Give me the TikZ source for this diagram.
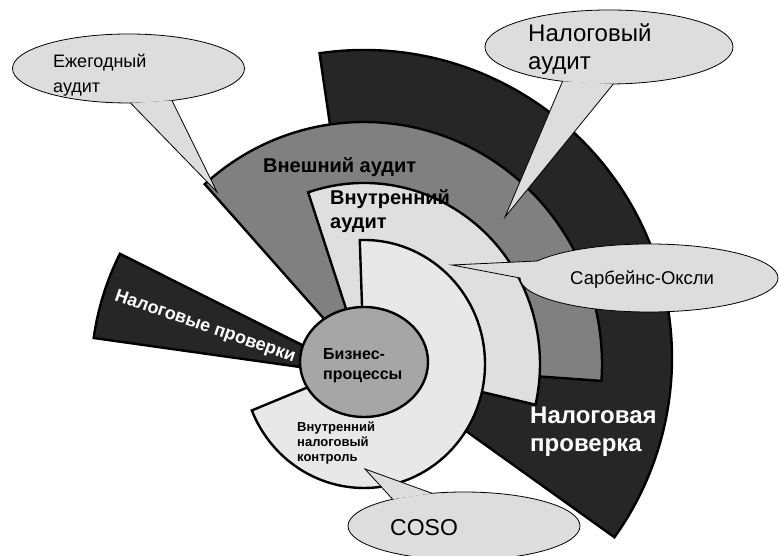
\documentclass[tikz,border=0pt]{standalone}
\usepackage{fontspec}
\setmainfont{Liberation Sans}
\usetikzlibrary{calc}
\definecolor{taxdark}{HTML}{262626}
\definecolor{extgray}{HTML}{808080}
\definecolor{intgray}{HTML}{DFDFDF}
\definecolor{ctrllight}{HTML}{E8E8E8}
\definecolor{bizgray}{HTML}{A6A6A6}
\definecolor{bubblefill}{HTML}{DDDDDD}
\tikzset{
  sector/.style={draw=black, line width=2.4pt},
  bubble/.style={fill=bubblefill},
  bubbleline/.style={draw=black, line width=0.8pt},
  lbl/.style={inner sep=0pt, anchor=base west, align=left},
}

\begin{document}
\begin{tikzpicture}[x=1pt, y=1pt]
  \useasboundingbox (0,0) rectangle (780,556);
  \coordinate (c) at (364,192);
  \coordinate (d) at (364,198);
  \coordinate (w) at (364,180);
  %% (A) Sectors ─────────────────────────────────────────────
  \draw[sector, fill=taxdark] (d) -- ++(98.3:308)
    arc[start angle=98.3, end angle=-35.6, radius=308] -- cycle;
  \draw[sector, fill=extgray] (c) -- ++(132:238 and 242)
    arc[start angle=132, end angle=-4, x radius=238, y radius=242] -- cycle;
  \draw[sector, fill=intgray] (c) -- ++(108.5:176 and 181)
    arc[start angle=108.5, end angle=-13, x radius=176, y radius=181] -- cycle;
  \draw[sector, fill=ctrllight] (c) -- ++(92:121 and 124)
    arc[start angle=92, end angle=-158, x radius=121, y radius=124] -- cycle;
  \draw[sector, fill=taxdark] (w) -- ++(153.4:273)
    arc[start angle=153.4, end angle=172, radius=273] -- cycle;
  \draw[sector, fill=bizgray] (364,194) ellipse [x radius=64, y radius=55];
  %% (B) Sector labels (base = last line) ────────────────────
  \node[lbl, font=\fontsize{20}{24}\selectfont\bfseries] (ext) at (263,383) {Внешний аудит};
  \node[lbl, font=\fontsize{20}{24}\selectfont\bfseries] (int) at (330,327) {Внутренний\\аудит};
  \node[lbl, font=\fontsize{16}{20}\selectfont\bfseries] (biz) at (323,176.7) {Бизнес-\\процессы};
  \node[lbl, font=\fontsize{13}{15}\selectfont\bfseries] (ctrl) at (297,94)
    {Внутренний\\налоговый\\контроль};
  \node[lbl, white, font=\fontsize{24}{28}\selectfont\bfseries] (check) at (530,104.7)
    {Налоговая\\проверка};
  \node[white, inner sep=0pt, rotate=-19, font=\fontsize{18}{20}\selectfont\bfseries]
    (checks) at (205,229) {Налоговые проверки};
  %% (C) Callouts ────────────────────────────────────────────
  % Ежегодный аудит
  \coordinate (e1) at (128.5,487.5);
  \coordinate (t1) at (217,364);
  \fill[bubble] (e1) ellipse [x radius=116, y radius=34.5];
  \draw[bubbleline] (e1) ellipse [x radius=116, y radius=34.5];
  \fill[bubble] ($(e1)+(-89:116 and 34.5)$) -- (t1) -- ($(e1)+(-68:116 and 34.5)$) -- cycle;
  \draw[bubbleline] ($(e1)+(-89:116 and 34.5)$) -- (t1) -- ($(e1)+(-68:116 and 34.5)$);
  \node[lbl, font=\fontsize{18}{25}\selectfont] (annual) at (53,463.3) {Ежегодный\\аудит};
  % Налоговый аудит
  \coordinate (e2) at (609,509);
  \coordinate (t2) at (505,339);
  \fill[bubble] (e2) ellipse [x radius=124, y radius=37];
  \draw[bubbleline] (e2) ellipse [x radius=124, y radius=37];
  \fill[bubble] ($(e2)+(-112:124 and 37)$) -- (t2) -- ($(e2)+(-88:124 and 37)$) -- cycle;
  \draw[bubbleline] ($(e2)+(-112:124 and 37)$) -- (t2) -- ($(e2)+(-88:124 and 37)$);
  \node[lbl, font=\fontsize{24}{28}\selectfont] (taxaudit) at (528,486) {Налоговый\\аудит};
  % Сарбейнс-Оксли
  \coordinate (e3) at (649,278);
  \coordinate (t3) at (452,291);
  \fill[bubble] (e3) ellipse [x radius=129, y radius=34];
  \draw[bubbleline] (e3) ellipse [x radius=129, y radius=34];
  \fill[bubble] ($(e3)+(150:129 and 34)$) -- (t3) -- ($(e3)+(180:129 and 34)$) -- cycle;
  \draw[bubbleline] ($(e3)+(150:129 and 34)$) -- (t3) -- ($(e3)+(180:129 and 34)$);
  \node[lbl, font=\fontsize{18.5}{22}\selectfont] (sox) at (570,271) {Сарбейнс-Оксли};
  % COSO
  \coordinate (e4) at (464,30);
  \coordinate (t4) at (365,87);
  \fill[bubble] (e4) ellipse [x radius=116, y radius=34];
  \draw[bubbleline] (e4) ellipse [x radius=116, y radius=34];
  \fill[bubble] ($(e4)+(128:116 and 34)$) -- (t4) -- ($(e4)+(106:116 and 34)$) -- cycle;
  \draw[bubbleline] ($(e4)+(128:116 and 34)$) -- (t4) -- ($(e4)+(106:116 and 34)$);
  \node[lbl, font=\fontsize{23}{28}\selectfont] (coso) at (390,20.3) {COSO};
\end{tikzpicture}
\end{document}
